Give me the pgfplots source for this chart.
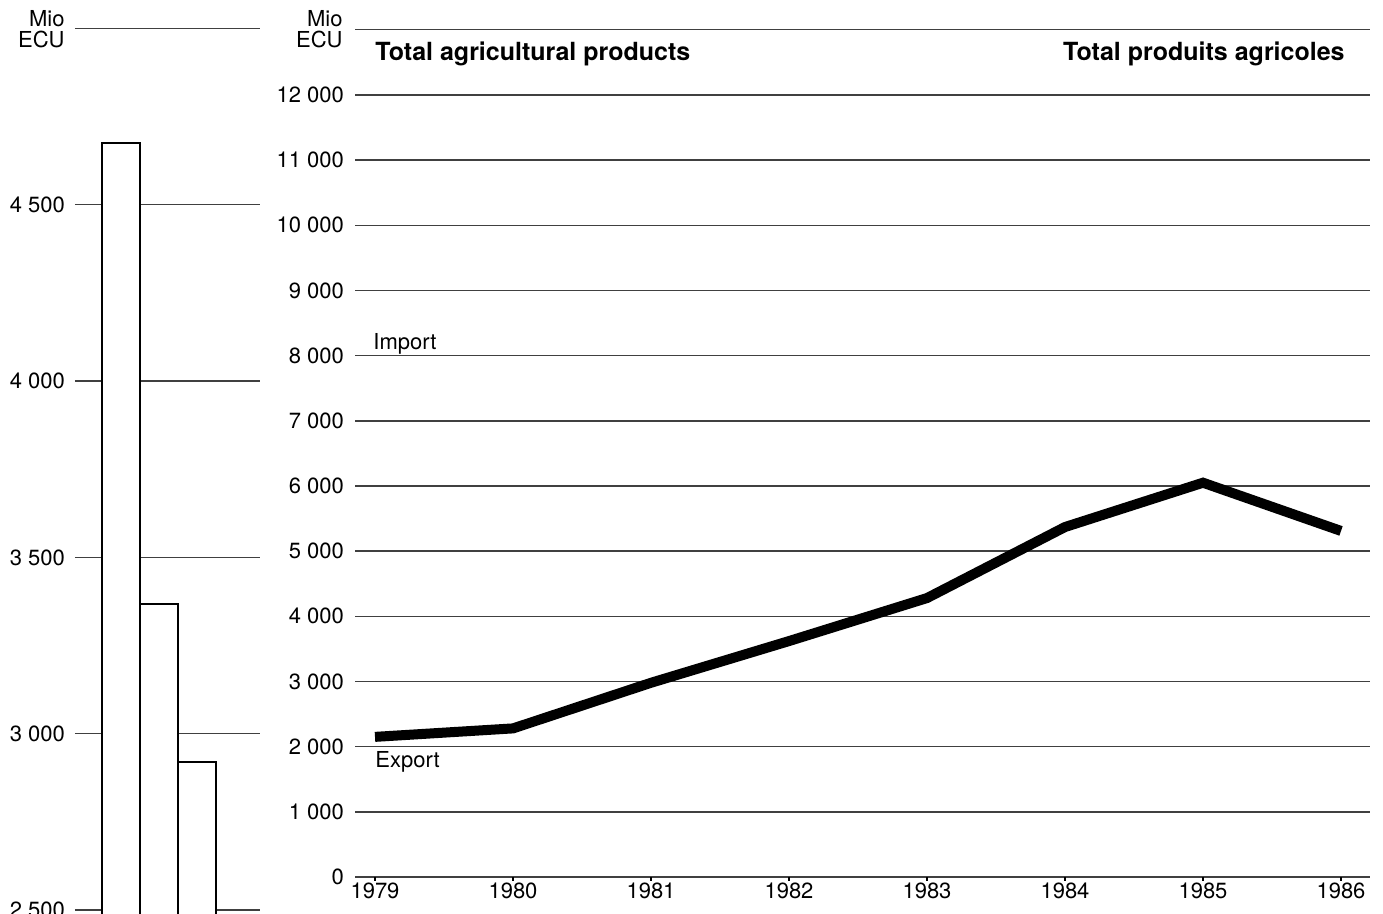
\documentclass[border=0pt]{standalone}
\usepackage{fontspec}
\setmainfont{TeX Gyre Heros}
\usepackage{pgfplots}
\pgfplotsset{compat=1.18}
\begin{document}
\begin{tikzpicture}[font=\fontsize{11}{13}\selectfont]
\path[use as bounding box] (0pt,0pt) rectangle (691.5pt,457pt);
\begin{pgfinterruptboundingbox}
\begin{scope}
\clip (0pt,0pt) rectangle (691.5pt,457pt);
% left panel (x in pixel units)
\begin{axis}[
  at={(37.5pt,-15.65pt)}, anchor=origin,
  scale only axis, width=92.5pt, height=458.4pt,
  xmin=75, xmax=260, ymin=2400, ymax=5000,
  axis line style={draw=none},
  scaled x ticks=false, scaled y ticks=false,
  xtick=\empty,
  ytick={2500,3000,3500,4000,4500,5000},
  yticklabels={2 500,3 000,3 500,4 000,4 500,{}},
  major tick length=0pt, tick pos=left,
  ymajorgrids, major grid style={black!75, line width=0.7pt},
  yticklabel style={font=\fontsize{11}{13}\selectfont, xshift=-1.5pt},
  clip=true,
]
\addplot[ybar, bar width=38, fill=white, draw=black, line width=1pt]
  coordinates {(121,4676) (159,3367) (197,2921)};
\end{axis}
% right panel
\begin{axis}[
  at={(177.5pt,18.5pt)}, anchor=origin,
  scale only axis, width=507.5pt, height=423.6pt,
  xmin=1978.855, xmax=1986.21, ymin=0, ymax=13000,
  axis line style={draw=none},
  scaled x ticks=false, scaled y ticks=false,
  xtick={1979,1980,1981,1982,1983,1984,1985,1986},
  xticklabels={1979,1980,1981,1982,1983,1984,1985,1986},
  ytick={0,1000,2000,3000,4000,5000,6000,7000,8000,9000,10000,11000,12000,13000},
  yticklabels={0,1 000,2 000,3 000,4 000,5 000,6 000,7 000,8 000,9 000,10 000,11 000,12 000,{}},
  tick pos=left,
  ytick style={draw=none},
  xtick style={black, line width=1.2pt},
  tick align=outside, major tick length=2pt,
  xticklabel style={font=\fontsize{11}{13}\selectfont, yshift=2.5pt},
  yticklabel style={font=\fontsize{11}{13}\selectfont, xshift=0pt},
  ymajorgrids, major grid style={black!75, line width=0.7pt},
]
\addplot[black, line width=5pt, line join=miter, line cap=butt]
  coordinates {(1979,2150) (1980,2280) (1981,2980) (1982,3620) (1983,4280) (1984,5370) (1985,6050) (1986,5310)};
\end{axis}
% texts
\node[anchor=base east, inner sep=0pt] at (32.5pt,443.5pt) {Mio};
\node[anchor=base east, inner sep=0pt] at (32.5pt,433pt) {ECU};
\node[anchor=base east, inner sep=0pt] at (171.5pt,443.5pt) {Mio};
\node[anchor=base east, inner sep=0pt] at (171.5pt,433pt) {ECU};
\node[anchor=base west, inner sep=0pt, font=\fontsize{12.5}{14}\selectfont\bfseries] at (187.5pt,426.5pt) {Total agricultural products};
\node[anchor=base east, inner sep=0pt, font=\fontsize{12.5}{14}\selectfont\bfseries] at (672.5pt,426.5pt) {Total produits agricoles};
\node[anchor=base west, inner sep=0pt] at (186.5pt,282pt) {Import};
\node[anchor=base west, inner sep=0pt] at (187.5pt,73pt) {Export};
\end{scope}
\end{pgfinterruptboundingbox}
\end{tikzpicture}
\end{document}
